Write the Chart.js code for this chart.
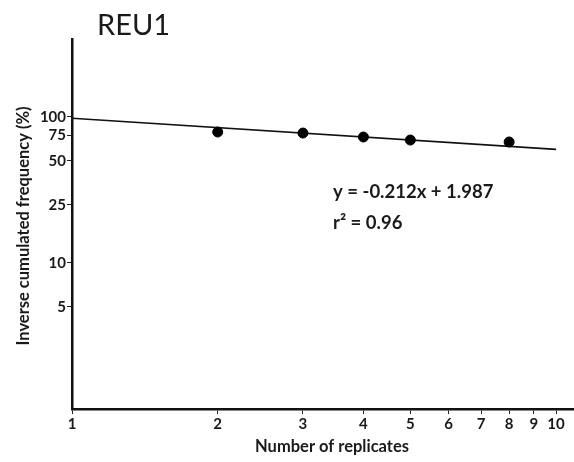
<!DOCTYPE html>
<html><head><meta charset="utf-8">
<script src="https://cdn.jsdelivr.net/npm/chart.js@4"></script>
<style>html,body{margin:0;padding:0;background:#fff}#wrap{width:574px;height:462px}</style>
</head><body><div id="wrap"><canvas id="c" width="574" height="462"></canvas></div>
<script>
const chartTitle = 'REU1';
const xTitle = 'Number of replicates';
const yTitle = 'Inverse cumulated frequency (%)';
const xTicks = [1,2,3,4,5,6,7,8,9,10];
const yTicks = [5,10,25,50,75,100];
const replicates = [2,3,4,5,8];
const frequency = [78.9,77.6,72.9,69.5,67.4];
const fitX = [1,10];
const fitY = [98,60];
const equationLines = ['y = -0.212x + 1.987','r² = 0.96'];

const X_MAX = 10.84;
const FONT = 'Lato, "Open Sans", sans-serif';
const textPlugin = {
  id:'texts',
  afterDraw(chart){
    const ctx = chart.ctx;
    ctx.save();
    ctx.fillStyle = '#1a1a1a';
    ctx.font = '29px ' + FONT; ctx.textAlign='left'; ctx.textBaseline='alphabetic';
    ctx.fillText(chartTitle, 97, 35);
    ctx.font = 'bold 16.5px ' + FONT; ctx.textAlign='center'; ctx.textBaseline='middle';
    ctx.fillText(xTitle, 332, 447);
    ctx.save(); ctx.translate(24, 226); ctx.rotate(-Math.PI/2);
    ctx.fillText(yTitle, 0, 0); ctx.restore();
    ctx.font = 'bold 18.5px ' + FONT; ctx.textAlign='left';
    ctx.fillText(equationLines[0], 333, 192);
    ctx.fillText(equationLines[1], 333, 223);
    ctx.restore();
  }
};

new Chart(document.getElementById('c'), {
  type:'scatter',
  data:{datasets:[
    {type:'line', data: fitX.map((x,i)=>({x, y: fitY[i]})), borderColor:'#111', borderWidth:1.6, pointRadius:0, fill:false, order:2},
    {data: replicates.map((x,i)=>({x, y: frequency[i]})), backgroundColor:'#000', borderColor:'#000', pointRadius:5, order:1}
  ]},
  options:{
    responsive:false, animation:false, devicePixelRatio:1,
    layout:{autoPadding:false, padding:{left:0,top:39,right:0,bottom:0}},
    plugins:{legend:{display:false}, tooltip:{enabled:false}},
    scales:{
      x:{type:'logarithmic', min:1, max:X_MAX,
        afterBuildTicks:s=>{s.ticks = xTicks.concat([X_MAX]).map(v=>({value:v}));},
        afterFit:s=>{s.height = 53;},
        ticks:{autoSkip:false, maxRotation:0, minRotation:0, padding:1, color:'#1a1a1a', font:{family:FONT, size:15, weight:'bold'}, callback:v=>(xTicks.includes(v)?String(v):'')},
        grid:{drawOnChartArea:false, drawTicks:true, tickLength:5, color:'#222',
          tickColor:c=>(c.tick && xTicks.includes(c.tick.value)?'#222':'rgba(0,0,0,0)'), tickWidth:1},
        border:{color:'#111', width:2.5}
      },
      y:{type:'logarithmic', min:1, max:342,
        afterBuildTicks:s=>{s.ticks = yTicks.map(v=>({value:v}));},
        afterFit:s=>{s.width = 72;},
        ticks:{autoSkip:false, padding:1, color:'#1a1a1a', font:{family:FONT, size:15, weight:'bold'}, callback:v=>String(v)},
        grid:{drawOnChartArea:false, drawTicks:true, tickLength:5, color:'#222', tickColor:'#222', tickWidth:1},
        border:{color:'#111', width:2.5}
      }
    }
  },
  plugins:[textPlugin]
});
</script></body></html>
